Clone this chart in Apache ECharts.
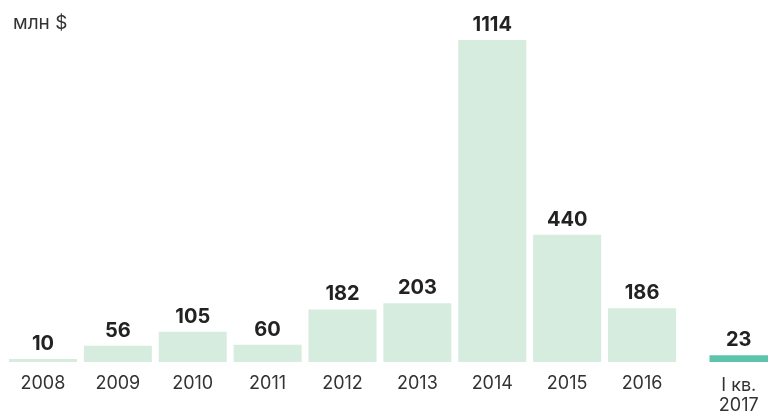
<!DOCTYPE html>
<html><head><meta charset="utf-8">
<style>html,body{margin:0;padding:0;background:#fff}#c{width:768px;height:416px}</style>
<script src="https://cdn.jsdelivr.net/npm/echarts@6/dist/echarts.min.js"></script>
</head><body><div id="c"></div>
<script>
const unitLabel = 'млн $';
const years = ['2008','2009','2010','2011','2012','2013','2014','2015','2016'];
const yearValues = [10, 56, 105, 60, 182, 203, 1114, 440, 186];
const quarterCategory = ['I кв.\n2017'];
const quarterValues = [23];

const chart = echarts.init(document.getElementById('c'));
const font = 'Inter, "Noto Sans", sans-serif';
const labelStyle = {show: true, position: 'top', distance: 5, fontFamily: font, fontWeight: 'bold', fontSize: 20, color: '#222'};
const yMax = 1200;
chart.setOption({
  animation: false,
  title: {text: unitLabel, left: 8, top: 9, textStyle: {fontFamily: font, fontWeight: 'normal', fontSize: 19, color: '#333'}},
  grid: [
    {left: 5.5, width: 674, top: 15.2, bottom: 54},
    {left: 709.5, width: 75, top: 15.2, bottom: 54}
  ],
  xAxis: [
    {type: 'category', gridIndex: 0, data: years, axisLine: {show: false}, axisTick: {show: false},
     axisLabel: {fontFamily: font, fontSize: 18, color: '#333', margin: 12, lineHeight: 20}},
    {type: 'category', gridIndex: 1, data: quarterCategory, axisLine: {show: false}, axisTick: {show: false},
     axisLabel: {fontFamily: font, fontSize: 18, color: '#333', margin: 14, lineHeight: 20, align: 'center'}}
  ],
  yAxis: [
    {type: 'value', gridIndex: 0, min: 0, max: yMax, show: false},
    {type: 'value', gridIndex: 1, min: 0, max: yMax, show: false}
  ],
  series: [
    {type: 'bar', xAxisIndex: 0, yAxisIndex: 0, data: yearValues, barWidth: 68,
     itemStyle: {color: '#d6ecdf'}, label: labelStyle},
    {type: 'bar', xAxisIndex: 1, yAxisIndex: 1, data: quarterValues, barWidth: 68,
     itemStyle: {color: '#5cc4aa'}, label: labelStyle}
  ]
});
</script></body></html>
